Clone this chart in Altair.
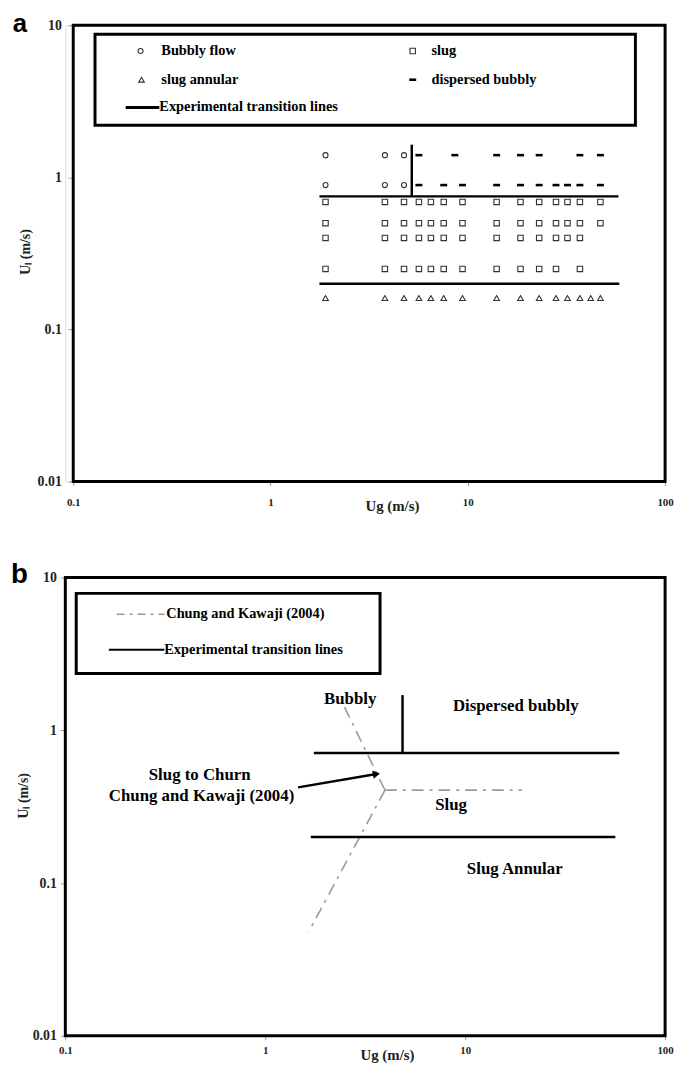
import altair as alt
import pandas as pd

FONT = "Liberation Serif"
W = 606
HA, HB = 461, 463

# ---------------- Panel a: observed flow patterns (Ug, Ul in m/s) ----------------
bubbly_ug = [1.9, 3.8, 4.75, 1.9, 3.8, 4.75]
bubbly_ul = [1.4, 1.4, 1.4, 0.89, 0.89, 0.89]

disp_ug = [5.65, 8.6, 14, 18.5, 23, 37, 47,
           5.65, 7.55, 9.4, 14, 18.5, 23, 28, 32, 37, 47]
disp_ul = [1.4] * 7 + [0.89] * 10

slug_row1 = [1.9, 3.8, 4.75, 5.65, 6.5, 7.55, 9.4, 14, 18.5, 23, 28, 32, 37, 47]
slug_row2 = [1.9, 3.8, 4.75, 5.65, 6.5, 7.55, 9.4, 14, 18.5, 23, 28, 32, 37, 47]
slug_row3 = [1.9, 3.8, 4.75, 5.65, 6.5, 7.55, 9.4, 14, 18.5, 23, 28, 32, 37]
slug_row4 = [1.9, 3.8, 4.75, 5.65, 6.5, 7.55, 9.4, 14, 18.5, 23, 28, 37]
slug_levels = [0.69, 0.5, 0.4, 0.25]

annular_ug = [1.9, 3.8, 4.75, 5.65, 6.5, 7.55, 9.4, 14, 18.5, 23, 28, 32, 37, 42, 47]
annular_ul = [0.161] * 15

# experimental transition lines (panel a)
exp_a_x1 = [1.77, 1.77, 5.2]
exp_a_x2 = [58, 58.6, 5.2]
exp_a_y1 = [0.75, 0.2, 0.75]
exp_a_y2 = [0.75, 0.2, 1.64]

# ---------------- Panel b: transition maps ----------------
exp_b_x1 = [1.75, 1.69, 4.86]
exp_b_x2 = [59, 56.4, 4.86]
exp_b_y1 = [0.71, 0.2, 0.71]
exp_b_y2 = [0.71, 0.2, 1.7]

ck_x1 = [2.49, 3.97, 3.97]
ck_x2 = [3.97, 19.2, 1.65]
ck_y1 = [1.42, 0.406, 0.406]
ck_y2 = [0.406, 0.406, 0.048]

region_labels = ["Bubbly", "Dispersed bubbly", "Slug", "Slug Annular",
                 "Slug to Churn", "Chung and Kawaji (2004)"]
region_x = [2.66, 17.9, 8.5, 17.7, 0.47, 0.48]
region_y = [1.6, 1.44, 0.323, 0.124, 0.506, 0.37]

arrow_x = [1.46]
arrow_x2 = [3.6]
arrow_y = [0.423]
arrow_y2 = [0.517]

x_ticks = [0.1, 1, 10, 100]
y_ticks = [0.01, 0.1, 1, 10]

LEG = 14.5

# ---------------- helpers ----------------
one = pd.DataFrame({"k": [0]})


def xaxis(title_x, title_y, label_pad):
    return alt.Axis(values=x_ticks, format="~g", title="Ug (m/s)", domain=False, grid=False,
                    tickSize=4, tickColor="#999", labelFont=FONT, labelFontWeight="bold",
                    labelFontSize=11, labelColor="#222", labelPadding=label_pad,
                    labelFlush=False,
                    titleFont=FONT, titleFontSize=15, titleFontWeight="bold", titleColor="#222",
                    titleX=title_x, titleY=title_y, titleBaseline="middle")


def yaxis(offset, title_x, title_y, label_pad):
    return alt.Axis(values=y_ticks, format="~g", title="Uₗ (m/s)", domain=False, grid=False,
                    offset=offset, tickSize=5, tickColor="#999", labelFont=FONT,
                    labelFontWeight="bold", labelFontSize=14, labelColor="#222",
                    labelPadding=label_pad, labelFlush=False,
                    titleFont=FONT, titleFontSize=14,
                    titleFontWeight="bold", titleColor="#222", titleX=title_x, titleY=title_y,
                    titleBaseline="middle", titleAngle=270)


def text_px(label, x, y, size=LEG, align="left", font=FONT):
    return alt.Chart(one).mark_text(align=align, baseline="middle", font=font, fontWeight="bold",
                                    fontSize=size, color="black").encode(
        x=alt.value(x), y=alt.value(y), text=alt.value(label))


def rule_px(x1, x2, y, color="black", width=2.5, dash=None):
    kw = dict(color=color, strokeWidth=width)
    if dash:
        kw["strokeDash"] = dash
    return alt.Chart(one).mark_rule(**kw).encode(
        x=alt.value(x1), x2=alt.value(x2), y=alt.value(y))


def box_px(x1, x2, y1, y2, width=3):
    return alt.Chart(one).mark_rect(fillOpacity=0, stroke="black", strokeWidth=width).encode(
        x=alt.value(x1), x2=alt.value(x2), y=alt.value(y1), y2=alt.value(y2))


def sym_px(shape, x, y, size, sw, color="#333"):
    return alt.Chart(one).mark_point(shape=shape, size=size, filled=False, color=color,
                                     strokeWidth=sw, opacity=1).encode(
        x=alt.value(x), y=alt.value(y))


# ---------------- Panel a ----------------
xs_a = alt.Scale(type="log", domain=[0.1, 100], range=[8, W])
ys_a = alt.Scale(type="log", domain=[0.01, 10])
XA = alt.X("ug:Q", scale=xs_a, axis=xaxis(330, 24, 11))
YA = alt.Y("ul:Q", scale=ys_a, axis=yaxis(-8, -48, HA / 2 - 2, 7))

bub_df = pd.DataFrame({"ug": bubbly_ug, "ul": bubbly_ul})
disp_df = pd.DataFrame({"ug": disp_ug, "ul": disp_ul})
slug_ug, slug_ul = [], []
for lev, row in zip(slug_levels, [slug_row1, slug_row2, slug_row3, slug_row4]):
    slug_ug += row
    slug_ul += [lev] * len(row)
slug_df = pd.DataFrame({"ug": slug_ug, "ul": slug_ul})
ann_df = pd.DataFrame({"ug": annular_ug, "ul": annular_ul})
exp_a_df = pd.DataFrame({"ug": exp_a_x1, "ug2": exp_a_x2, "ul": exp_a_y1, "ul2": exp_a_y2})

layers_a = [
    alt.Chart(bub_df).mark_point(shape="circle", size=26, filled=False, color="#333",
                                 strokeWidth=1.1, opacity=1).encode(x=XA, y=YA),
    alt.Chart(slug_df).mark_point(shape="square", size=30, filled=False, color="#333",
                                  strokeWidth=1.1, opacity=1).encode(x=XA, y=YA),
    alt.Chart(ann_df).mark_point(shape="triangle-up", size=32, filled=False, color="#333",
                                 strokeWidth=1.1, opacity=1).encode(x=XA, y=YA),
    alt.Chart(disp_df).mark_point(shape="stroke", size=49, filled=False, color="black",
                                  strokeWidth=2.6, opacity=1).encode(x=XA, y=YA),
    alt.Chart(exp_a_df).mark_rule(color="black", strokeWidth=2.5).encode(
        x=XA, x2="ug2:Q", y=YA, y2="ul2:Q"),
    # legend
    box_px(30, 576, 9, 101),
    sym_px("circle", 76, 26, 26, 1.1),
    text_px("Bubbly flow", 97, 26),
    sym_px("triangle-up", 77, 55, 32, 1.1),
    text_px("slug annular", 97, 55),
    rule_px(61, 95, 83, width=3),
    text_px("Experimental transition lines", 95, 83),
    sym_px("square", 351, 26, 30, 1.1),
    text_px("slug", 370, 26),
    sym_px("stroke", 351, 55, 49, 2.6, color="black"),
    text_px("dispersed bubbly", 370, 55),
    # frame and panel letter
    box_px(8, W, 0, HA),
    text_px("a", -53, -1, size=26, font="Liberation Sans"),
]
panel_a = alt.layer(*layers_a).properties(width=W, height=HA)

# ---------------- Panel b ----------------
xs_b = alt.Scale(type="log", domain=[0.1, 100])
ys_b = alt.Scale(type="log", domain=[0.01, 10])
XB = alt.X("ug:Q", scale=xs_b, axis=xaxis(325, 19, 5))
YB = alt.Y("ul:Q", scale=ys_b, axis=yaxis(0, -42, 220, 4))

exp_b_df = pd.DataFrame({"ug": exp_b_x1, "ug2": exp_b_x2, "ul": exp_b_y1, "ul2": exp_b_y2})
ck_df = pd.DataFrame({"ug": ck_x1, "ug2": ck_x2, "ul": ck_y1, "ul2": ck_y2})
lab_df = pd.DataFrame({"ug": region_x, "ul": region_y, "label": region_labels})
arr_df = pd.DataFrame({"ug": arrow_x, "ug2": arrow_x2, "ul": arrow_y, "ul2": arrow_y2})
head_df = pd.DataFrame({"ug": arrow_x2, "ul": arrow_y2})

layers_b = [
    alt.Chart(ck_df).mark_rule(color="#9a9a9a", strokeWidth=1.6, strokeDash=[12, 6, 3, 6]).encode(
        x=XB, x2="ug2:Q", y=YB, y2="ul2:Q"),
    alt.Chart(exp_b_df).mark_rule(color="black", strokeWidth=2.5).encode(
        x=XB, x2="ug2:Q", y=YB, y2="ul2:Q"),
    alt.Chart(lab_df).mark_text(font=FONT, fontWeight="bold", fontSize=17, color="black",
                                align="center", baseline="middle").encode(
        x=XB, y=YB, text="label:N"),
    alt.Chart(arr_df).mark_rule(color="black", strokeWidth=2.5).encode(
        x=XB, x2="ug2:Q", y=YB, y2="ul2:Q"),
    alt.Chart(head_df).mark_point(shape="triangle-up", size=70, filled=True, color="black",
                                  angle=80, opacity=1).encode(x=XB, y=YB),
    # legend
    box_px(11, 318, 16, 97),
    rule_px(52, 100, 37, color="#9a9a9a", width=1.6, dash=[8, 5, 3, 5]),
    text_px("Chung and Kawaji (2004)", 102, 37),
    rule_px(44, 100, 73, width=2),
    text_px("Experimental transition lines", 100, 73),
    # frame and panel letter
    box_px(0, W, 0, HB),
    text_px("b", -55, -2, size=28, font="Liberation Sans"),
]
panel_b = alt.layer(*layers_b).properties(width=W, height=HB)

chart = alt.vconcat(panel_a, panel_b, spacing=47).properties(
    padding={"left": 10, "top": 5, "right": 0, "bottom": 0}
).configure_view(strokeWidth=0).configure(background="white")

chart.save("out.html", embed_options={"renderer": "svg", "actions": False})
